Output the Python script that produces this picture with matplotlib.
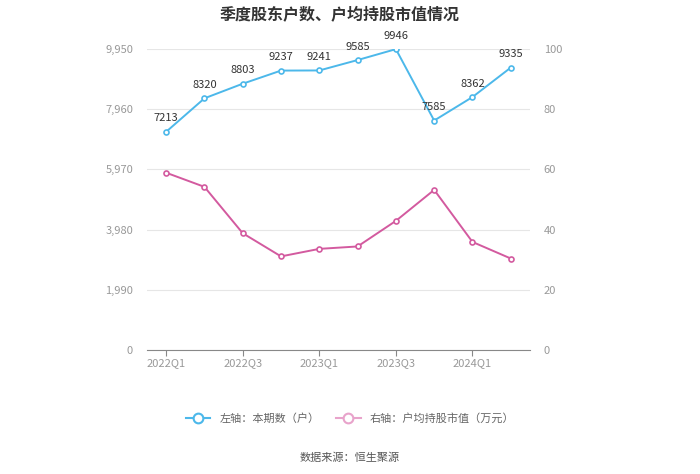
import matplotlib.pyplot as plt
from matplotlib.lines import Line2D

plt.rcParams['font.family'] = ['Noto Sans CJK SC', 'DejaVu Sans']

quarters = ['2022Q1', '2022Q2', '2022Q3', '2022Q4', '2023Q1',
            '2023Q2', '2023Q3', '2023Q4', '2024Q1', '2024Q2']
holders = [7213, 8320, 8803, 9237, 9241, 9585, 9946, 7585, 8362, 9335]
avg_value = [58.9, 54.2, 38.8, 31.1, 33.6, 34.4, 42.9, 53.2, 35.9, 30.4]
left_ticks = [0, 1990, 3980, 5970, 7960, 9950]
right_ticks = [0, 20, 40, 60, 80, 100]

blue = '#4cb8ea'
pink = '#d35a9f'
grey = '#999999'

fig = plt.figure(figsize=(7, 4.74), dpi=100)
ax = fig.add_axes([0.21, 0.2616, 0.547, 0.635])
ax2 = ax.twinx()

x = list(range(len(quarters)))
ax.plot(x, holders, color=blue, lw=1.4, marker='o', ms=3.6,
        mfc='white', mec=blue, mew=1.2, zorder=3)
for xi, v in zip(x, holders):
    ax.annotate(str(v), (xi, v), xytext=(0, 6), textcoords='offset points',
                ha='center', va='bottom', fontsize=8, color='#333333')

ax2.plot(x, avg_value, color=pink, lw=1.4, marker='o', ms=3.6,
         mfc='white', mec=pink, mew=1.2, zorder=3)

ax.set_xlim(-0.5, len(quarters) - 0.5)
ax.set_ylim(0, 9950)
ax2.set_ylim(0, 100)
ax.set_yticks(left_ticks)
ax.set_yticklabels([f'{t:,}' for t in left_ticks])
ax2.set_yticks(right_ticks)

ax.set_xticks(x[::2])
ax.set_xticklabels(quarters[::2])

ax.grid(axis='y', color='#e6e6e6', lw=0.8)
ax.set_axisbelow(True)
for a in (ax, ax2):
    for s in a.spines.values():
        s.set_visible(False)
    a.tick_params(axis='y', length=0, colors=grey, labelsize=8, pad=10)
ax.spines['bottom'].set_visible(True)
ax.spines['bottom'].set_color('#888888')
ax.tick_params(axis='x', colors=grey, labelsize=8, length=4, pad=2)
ax.tick_params(axis='x', color='#888888')

fig.suptitle('季度股东户数、户均持股市值情况', x=0.485, y=0.985,
             fontsize=11.5, fontweight='bold', color='#333333')

handles = [
    Line2D([], [], color=blue, lw=1.5, marker='o', ms=7, mfc='white', mec=blue, mew=1.5),
    Line2D([], [], color='#e8a3cb', lw=1.5, marker='o', ms=7, mfc='white', mec='#e8a3cb', mew=1.5),
]
fig.legend(handles, ['左轴：本期数（户）', '右轴：户均持股市值（万元）'],
           loc='center', bbox_to_anchor=(0.5, 0.118), ncol=2, frameon=False,
           fontsize=8, labelcolor='#666666', handlelength=2.2, columnspacing=1.5)

fig.text(0.5, 0.035, '数据来源：恒生聚源', ha='center', va='center',
         fontsize=8, color='#555555')

fig.savefig('out.png', dpi=100, facecolor='white')
